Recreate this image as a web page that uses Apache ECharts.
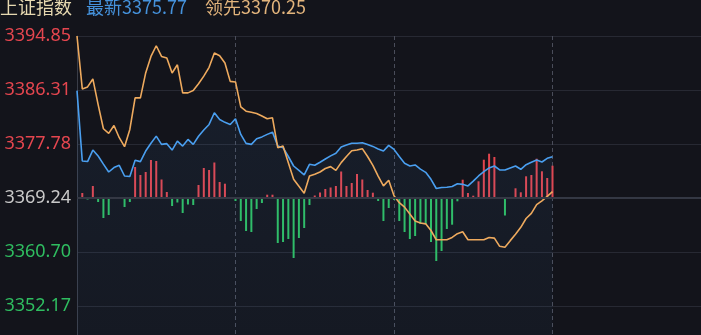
<!DOCTYPE html>
<html><head><meta charset="utf-8">
<script src="https://cdn.jsdelivr.net/npm/echarts@6/dist/echarts.min.js"></script>
<style>html,body{margin:0;padding:0;background:#13141b;overflow:hidden;width:701px;height:335px;}#c{width:720px;height:380px;}</style>
</head><body><div id="c"></div>
<script>
// previous close and tick step
const prevClose = 3369.24;
const step = 8.536667;
const tickValues = ['3394.85','3386.31','3377.78','3369.24','3360.70','3352.17','3343.63'];
// 上证指数, sampled every 2 minutes from 9:30
const indexValues = [3386.22,3375.09,3375.00,3376.82,3375.87,3374.60,3373.35,3374.05,3374.41,3372.72,
3372.63,3375.20,3374.99,3376.66,3377.90,3379.02,3377.72,3377.83,3376.82,3378.24,
3377.45,3378.50,3377.72,3379.00,3380.00,3380.87,3382.71,3381.65,3381.20,3380.87,
3381.76,3379.29,3377.87,3377.72,3378.61,3378.90,3379.30,3379.65,3377.45,3377.20,
3375.80,3374.30,3373.60,3372.88,3374.57,3374.41,3374.90,3375.40,3375.90,3376.30,
3377.30,3377.60,3377.90,3377.90,3377.98,3377.70,3377.40,3377.00,3376.66,3377.56,
3376.93,3375.80,3374.72,3374.30,3374.46,3373.80,3373.30,3372.20,3370.74,3370.90,
3370.95,3371.06,3371.50,3371.40,3371.15,3371.90,3372.72,3373.40,3374.00,3374.30,
3373.67,3373.67,3374.00,3374.30,3373.78,3374.50,3374.90,3375.24,3374.93,3375.51,3375.77];
// 领先指标
const leadValues = [3394.85,3386.49,3386.80,3388.06,3384.00,3380.19,3379.45,3380.71,3378.77,3377.35,
3380.08,3385.07,3385.07,3389.01,3391.62,3393.31,3391.62,3391.37,3389.00,3390.30,
3385.86,3385.86,3386.22,3387.30,3388.50,3389.90,3392.16,3391.73,3390.58,3387.68,
3387.59,3383.65,3382.96,3382.80,3382.60,3382.20,3381.76,3381.92,3377.20,3377.45,
3374.80,3372.20,3371.10,3370.00,3372.72,3373.00,3373.35,3373.90,3374.20,3373.60,
3374.83,3375.80,3376.70,3376.82,3377.04,3375.80,3374.40,3372.70,3371.15,3372.05,
3369.60,3368.50,3367.80,3366.70,3365.60,3365.30,3365.15,3364.10,3362.64,3362.64,
3362.64,3363.00,3363.60,3363.91,3362.64,3362.64,3362.64,3362.64,3363.00,3362.90,
3361.60,3361.45,3362.50,3363.50,3364.60,3366.00,3366.80,3368.20,3368.80,3369.50,3370.25];
// 买卖力道柱
const strength = [0,5,-1.5,12,-4,-20,-17,0,0,-9,
-4,31,23,26,38,37,18.5,6,-8,-4.5,
-15,-6.5,-7,13,30,28,35.5,16,14.3,0,
-3,-23,-33,-34,-11,-5,3.3,3.3,-45,-44,
-41,-60,-40,-30,-7,2.5,5.5,9,10.5,12,
26.5,12,15,24,18.5,8,5.3,-3,-23,-10,
-2,-23,-34,-41,-38,-26,-26,-44,-63,-53,
-31,-26.7,-3.3,18.3,5,2.3,16.7,38.3,44.3,41,
-1,-17.5,0,9.7,5.7,21.7,23,39.3,26.7,20,32.3];

const times = [];
for (let m = 0; m <= 240; m += 2) {
  let t = m <= 120 ? 9*60+30+m : 13*60+(m-120);
  times.push(Math.floor(t/60)+':'+String(t%60).padStart(2,'0'));
}

const chart = echarts.init(document.getElementById('c'), null, {renderer:'canvas', width: 720, height: 380});
const labelColor = v => v > 0.01 ? '#e5464f' : (v < -0.01 ? '#2fbd60' : '#c9c9c9');
chart.setOption({
  backgroundColor: '#13141b',
  animation: false,
  grid: {left: 77, top: 36, width: 634, height: 324, containLabel: false},
  xAxis: {
    type: 'category', data: times, boundaryGap: false,
    axisLine: {show: false}, axisTick: {show: false}, axisLabel: {show: false},
    splitLine: {show: true, interval: (i) => i > 0 && i % 30 === 0,
      lineStyle: {color: '#4a4d5a', type: [4, 3], width: 1}}
  },
  yAxis: [{
    type: 'value', min: -3, max: 3, interval: 1,
    axisLine: {show: true, lineStyle: {color: '#3a3d48'}},
    axisTick: {show: false},
    splitLine: {show: true, lineStyle: {color: '#272933', width: 1}},
    axisLabel: {margin: 6, fontFamily: 'Noto Sans', fontSize: 18,
      formatter: v => tickValues[3 - Math.round(v)] || '',
      color: v => labelColor(v)}
  }, {
    type: 'value', min: -162, max: 162, show: false, splitLine: {show: false}
  }],
  series: [{
    type: 'bar', yAxisIndex: 1, barWidth: 2,
    data: strength.map(v => ({value: v, itemStyle: {color: v >= 0 ? '#e2454e' : '#2ebf62'}})),
    markLine: {silent: true, symbol: 'none', label: {show: false},
      lineStyle: {color: '#343844', type: 'solid', width: 2}, data: [{yAxis: 0}]}
  }, {
    type: 'line', data: indexValues.map(p => (p - prevClose) / step),
    symbol: 'none', lineStyle: {color: '#4a9ff0', width: 1.6},
    areaStyle: {origin: 'start', color: new echarts.graphic.LinearGradient(0,0,0,1,[
      {offset: 0, color: 'rgba(74,150,230,0.11)'}, {offset: 1, color: 'rgba(74,150,230,0.05)'}])}
  }, {
    type: 'line', data: leadValues.map(p => (p - prevClose) / step),
    symbol: 'none', lineStyle: {color: '#eeaa5e', width: 1.6}
  }],
  graphic: [
    {type: 'text', left: 0, top: -2, style: {text: '上证指数', fill: '#e6d8b0', font: '18px "Noto Sans CJK SC"'}},
    {type: 'text', left: 86, top: -2, style: {text: '最新' + indexValues[indexValues.length-1].toFixed(2), fill: '#4592dc', font: '18px "Noto Sans CJK SC"'}},
    {type: 'text', left: 205, top: -2, style: {text: '领先' + leadValues[leadValues.length-1].toFixed(2), fill: '#e2b47c', font: '18px "Noto Sans CJK SC"'}}
  ]
});
</script></body></html>
